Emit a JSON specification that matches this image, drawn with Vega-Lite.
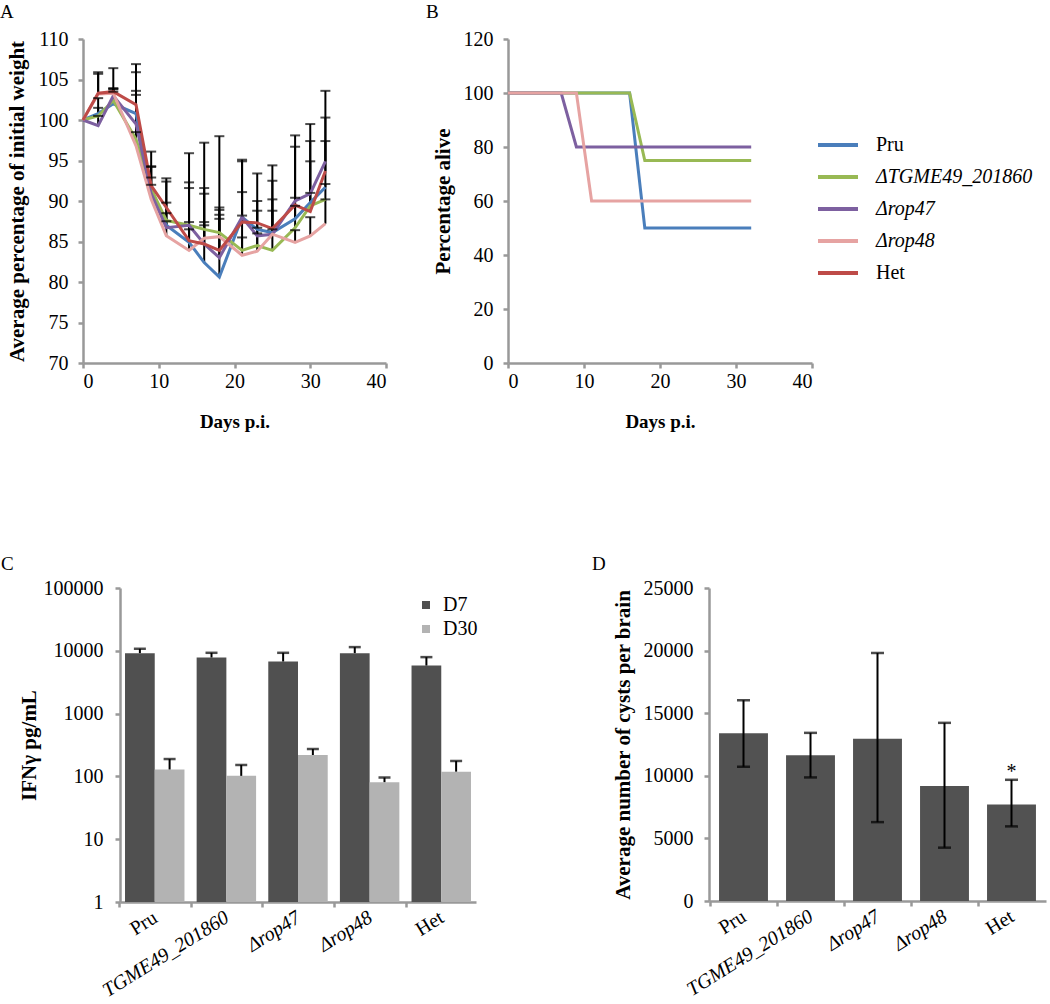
{
  "$schema": "https://vega.github.io/schema/vega-lite/v6.json",
  "padding": {"left": 0, "top": 3, "right": 5, "bottom": 0},
  "background": "white",
  "spacing": 124,
  "resolve": {"scale": {"x": "independent", "y": "independent", "color": "independent"}, "legend": {"color": "independent"}},
  "vconcat": [
    {
      "spacing": 38,
      "resolve": {"scale": {"x": "independent", "y": "independent", "color": "independent"}, "legend": {"color": "independent"}},
      "hconcat": [
        {
          "title": {"text": "A", "anchor": "start", "frame": "bounds", "offset": 7, "dx": -6},
          "width": 303,
          "height": 324,
          "data": {"values": [
            {"day": 0, "strain": "Pru", "weight": 100, "upper": null},
            {"day": 2, "strain": "Pru", "weight": 100.8, "upper": 102.7},
            {"day": 4, "strain": "Pru", "weight": 102.0, "upper": 103.5},
            {"day": 7, "strain": "Pru", "weight": 100.8, "upper": 105.9},
            {"day": 9, "strain": "Pru", "weight": 91.3, "upper": 94.2},
            {"day": 11, "strain": "Pru", "weight": 87.0, "upper": 89.8},
            {"day": 14, "strain": "Pru", "weight": 84.9, "upper": 87.4},
            {"day": 16, "strain": "Pru", "weight": 82.4, "upper": 97.2},
            {"day": 18, "strain": "Pru", "weight": 80.6, "upper": 98.0},
            {"day": 21, "strain": "Pru", "weight": 88.0, "upper": 95.1},
            {"day": 23, "strain": "Pru", "weight": 86.5, "upper": 90.0},
            {"day": 25, "strain": "Pru", "weight": 86.1, "upper": 90.2},
            {"day": 28, "strain": "Pru", "weight": 87.8, "upper": 90.4},
            {"day": 30, "strain": "Pru", "weight": 89.8, "upper": 97.4},
            {"day": 32, "strain": "Pru", "weight": 91.7, "upper": 97.4},
            {"day": 0, "strain": "ΔTGME49_201860", "weight": 100, "upper": null},
            {"day": 2, "strain": "ΔTGME49_201860", "weight": 100.5, "upper": 101.5},
            {"day": 4, "strain": "ΔTGME49_201860", "weight": 102.4, "upper": 103.8},
            {"day": 7, "strain": "ΔTGME49_201860", "weight": 97.6, "upper": 103.1},
            {"day": 9, "strain": "ΔTGME49_201860", "weight": 91.5, "upper": 94.3},
            {"day": 11, "strain": "ΔTGME49_201860", "weight": 87.6, "upper": 92.4},
            {"day": 14, "strain": "ΔTGME49_201860", "weight": 87.0, "upper": 92.3},
            {"day": 16, "strain": "ΔTGME49_201860", "weight": 86.5, "upper": 91.6},
            {"day": 18, "strain": "ΔTGME49_201860", "weight": 86.1, "upper": 87.8},
            {"day": 21, "strain": "ΔTGME49_201860", "weight": 83.9, "upper": 88.2},
            {"day": 23, "strain": "ΔTGME49_201860", "weight": 84.5, "upper": 86.7},
            {"day": 25, "strain": "ΔTGME49_201860", "weight": 83.9, "upper": 86.5},
            {"day": 28, "strain": "ΔTGME49_201860", "weight": 86.7, "upper": 89.4},
            {"day": 30, "strain": "ΔTGME49_201860", "weight": 89.4, "upper": 91.0},
            {"day": 32, "strain": "ΔTGME49_201860", "weight": 90.2, "upper": 92.1},
            {"day": 0, "strain": "Δrop47", "weight": 100, "upper": null},
            {"day": 2, "strain": "Δrop47", "weight": 99.3, "upper": 100.5},
            {"day": 4, "strain": "Δrop47", "weight": 103.0, "upper": 103.9},
            {"day": 7, "strain": "Δrop47", "weight": 99.5, "upper": 103.6},
            {"day": 9, "strain": "Δrop47", "weight": 90.9, "upper": 92.9},
            {"day": 11, "strain": "Δrop47", "weight": 86.7, "upper": 88.5},
            {"day": 14, "strain": "Δrop47", "weight": 87.0, "upper": 95.9},
            {"day": 16, "strain": "Δrop47", "weight": 84.7, "upper": 87.0},
            {"day": 18, "strain": "Δrop47", "weight": 83.0, "upper": 89.2},
            {"day": 21, "strain": "Δrop47", "weight": 88.0, "upper": 94.9},
            {"day": 23, "strain": "Δrop47", "weight": 85.7, "upper": 88.8},
            {"day": 25, "strain": "Δrop47", "weight": 85.9, "upper": 92.5},
            {"day": 28, "strain": "Δrop47", "weight": 90.0, "upper": 98.1},
            {"day": 30, "strain": "Δrop47", "weight": 90.9, "upper": 99.5},
            {"day": 32, "strain": "Δrop47", "weight": 94.9, "upper": 103.6},
            {"day": 0, "strain": "Δrop48", "weight": 100, "upper": null},
            {"day": 2, "strain": "Δrop48", "weight": 103.2, "upper": 105.9},
            {"day": 4, "strain": "Δrop48", "weight": 103.3, "upper": 103.9},
            {"day": 7, "strain": "Δrop48", "weight": 96.8, "upper": 98.5},
            {"day": 9, "strain": "Δrop48", "weight": 90.2, "upper": 92.0},
            {"day": 11, "strain": "Δrop48", "weight": 85.7, "upper": 87.5},
            {"day": 14, "strain": "Δrop48", "weight": 83.9, "upper": 86.5},
            {"day": 16, "strain": "Δrop48", "weight": 85.4, "upper": 87.4},
            {"day": 18, "strain": "Δrop48", "weight": 85.6, "upper": 88.3},
            {"day": 21, "strain": "Δrop48", "weight": 83.3, "upper": 85.5},
            {"day": 23, "strain": "Δrop48", "weight": 83.8, "upper": 86.0},
            {"day": 25, "strain": "Δrop48", "weight": 85.9, "upper": 88.8},
            {"day": 28, "strain": "Δrop48", "weight": 84.9, "upper": 86.4},
            {"day": 30, "strain": "Δrop48", "weight": 85.7, "upper": 88.0},
            {"day": 32, "strain": "Δrop48", "weight": 87.2, "upper": 90.2},
            {"day": 0, "strain": "Het", "weight": 100, "upper": null},
            {"day": 2, "strain": "Het", "weight": 103.3, "upper": 105.7},
            {"day": 4, "strain": "Het", "weight": 103.5, "upper": 106.4},
            {"day": 7, "strain": "Het", "weight": 101.9, "upper": 106.9},
            {"day": 9, "strain": "Het", "weight": 91.9, "upper": 96.1},
            {"day": 11, "strain": "Het", "weight": 89.2, "upper": 92.8},
            {"day": 14, "strain": "Het", "weight": 85.1, "upper": 91.6},
            {"day": 16, "strain": "Het", "weight": 84.7, "upper": 90.9},
            {"day": 18, "strain": "Het", "weight": 83.9, "upper": 88.9},
            {"day": 21, "strain": "Het", "weight": 87.4, "upper": 91.1},
            {"day": 23, "strain": "Het", "weight": 87.3, "upper": 93.4},
            {"day": 25, "strain": "Het", "weight": 86.6, "upper": 94.4},
            {"day": 28, "strain": "Het", "weight": 89.5, "upper": 96.7},
            {"day": 30, "strain": "Het", "weight": 88.7, "upper": 94.9},
            {"day": 32, "strain": "Het", "weight": 93.7, "upper": 100.3}
          ]},
          "encoding": {
            "x": {"field": "day", "type": "quantitative", "scale": {"domain": [0, 40], "nice": false}, "axis": {"values": [0, 10, 20, 30, 40], "title": "Days p.i.", "titleFontSize": 19, "titlePadding": 21, "labelPadding": 3}}
          },
          "layer": [
            {
              "transform": [{"filter": "datum.upper != null"}],
              "mark": {"type": "rule", "color": "black", "strokeWidth": 2},
              "encoding": {
                "y": {"field": "weight", "type": "quantitative", "scale": {"domain": [70, 110], "nice": false, "zero": false}, "axis": {"values": [70, 75, 80, 85, 90, 95, 100, 105, 110], "title": "Average percentage of initial weight", "titleFontSize": 21, "labelPadding": 10, "titlePadding": 11}},
                "y2": {"field": "upper"}
              }
            },
            {
              "mark": {"type": "line", "strokeWidth": 3},
              "encoding": {
                "y": {"field": "weight", "type": "quantitative"},
                "color": {"field": "strain", "type": "nominal", "legend": null, "scale": {"domain": ["Pru", "ΔTGME49_201860", "Δrop47", "Δrop48", "Het"], "range": ["#4A7EBB", "#98B954", "#7D60A0", "#E6A3A2", "#BE4B48"]}}
              }
            },
            {
              "transform": [{"filter": "datum.upper != null"}],
              "mark": {"type": "tick", "orient": "horizontal", "size": 10, "thickness": 2, "color": "black"},
              "encoding": {"y": {"field": "upper", "type": "quantitative"}}
            }
          ]
        },
        {
          "title": {"text": "B", "anchor": "start", "frame": "bounds", "offset": 7, "dx": -6},
          "width": 304,
          "height": 324,
          "data": {"values": [
            {"day": 0, "strain": "Pru", "alive": 100},
            {"day": 16, "strain": "Pru", "alive": 100},
            {"day": 18, "strain": "Pru", "alive": 50},
            {"day": 32, "strain": "Pru", "alive": 50},
            {"day": 0, "strain": "ΔTGME49_201860", "alive": 100},
            {"day": 16, "strain": "ΔTGME49_201860", "alive": 100},
            {"day": 18, "strain": "ΔTGME49_201860", "alive": 75},
            {"day": 32, "strain": "ΔTGME49_201860", "alive": 75},
            {"day": 0, "strain": "Δrop47", "alive": 100},
            {"day": 7, "strain": "Δrop47", "alive": 100},
            {"day": 9, "strain": "Δrop47", "alive": 80},
            {"day": 32, "strain": "Δrop47", "alive": 80},
            {"day": 0, "strain": "Δrop48", "alive": 100},
            {"day": 9, "strain": "Δrop48", "alive": 100},
            {"day": 11, "strain": "Δrop48", "alive": 60},
            {"day": 32, "strain": "Δrop48", "alive": 60}
          ]},
          "mark": {"type": "line", "strokeWidth": 3},
          "encoding": {
            "x": {"field": "day", "type": "quantitative", "scale": {"domain": [0, 40], "nice": false}, "axis": {"values": [0, 10, 20, 30, 40], "title": "Days p.i.", "titleFontSize": 19, "titlePadding": 21, "labelPadding": 3}},
            "y": {"field": "alive", "type": "quantitative", "scale": {"domain": [0, 120], "nice": false}, "axis": {"values": [0, 20, 40, 60, 80, 100, 120], "title": "Percentage alive", "titleFontSize": 21, "labelPadding": 10, "titlePadding": 10}},
            "color": {"field": "strain", "type": "nominal", "scale": {"domain": ["Pru", "ΔTGME49_201860", "Δrop47", "Δrop48", "Het"], "range": ["#4A7EBB", "#98B954", "#7D60A0", "#E6A3A2", "#BE4B48"]},
              "legend": {"orient": "none", "legendX": 308, "legendY": 84, "title": null, "symbolType": "stroke", "symbolSize": 1600, "symbolStrokeWidth": 4, "labelFontSize": 20, "labelOffset": 16, "labelLimit": 300, "rowPadding": 0, "padding": 0,
                "encode": {"labels": {"update": {"fontStyle": {"signal": "datum.label == 'Pru' || datum.label == 'Het' ? 'normal' : 'italic'"}}}}}}
          }
        }
      ]
    },
    {
      "spacing": 114,
      "resolve": {"scale": {"x": "independent", "y": "independent", "color": "independent"}, "legend": {"color": "independent"}},
      "hconcat": [
        {
          "title": {"text": "C", "anchor": "start", "frame": "bounds", "offset": 4, "dx": -17},
          "width": 393,
          "height": 314,
          "data": {"values": [
            {"strain": "Pru", "day": "D7", "ifn": 9180, "upper": 10770},
            {"strain": "Pru", "day": "D30", "ifn": 129, "upper": 189},
            {"strain": "TGME49_201860", "day": "D7", "ifn": 7830, "upper": 9290},
            {"strain": "TGME49_201860", "day": "D30", "ifn": 102, "upper": 152},
            {"strain": "Δrop47", "day": "D7", "ifn": 6760, "upper": 9290},
            {"strain": "Δrop47", "day": "D30", "ifn": 219, "upper": 273},
            {"strain": "Δrop48", "day": "D7", "ifn": 9180, "upper": 11450},
            {"strain": "Δrop48", "day": "D30", "ifn": 81, "upper": 96},
            {"strain": "Het", "day": "D7", "ifn": 5830, "upper": 7930},
            {"strain": "Het", "day": "D30", "ifn": 119, "upper": 176}
          ]},
          "encoding": {
            "x": {"field": "strain", "type": "nominal", "sort": ["Pru", "TGME49_201860", "Δrop47", "Δrop48", "Het"], "scale": {"range": [37, 393], "paddingInner": 0.17, "paddingOuter": 0.07},
              "axis": {"title": null, "labelAngle": -32, "labelAlign": "right", "labelBaseline": "top", "labelPadding": 0, "tickOffset": -35.7, "labelOffset": 30.7,
                "labelFontStyle": {"condition": {"test": "datum.value == 'Pru' || datum.value == 'Het'", "value": "normal"}, "value": "italic"}}},
            "xOffset": {"field": "day", "type": "nominal", "sort": ["D7", "D30"], "scale": {"paddingInner": 0, "paddingOuter": 0}}
          },
          "layer": [
            {
              "mark": {"type": "bar"},
              "encoding": {
                "y": {"field": "ifn", "type": "quantitative", "scale": {"type": "log", "domain": [1, 100000], "nice": false}, "axis": {"offset": -37, "values": [1, 10, 100, 1000, 10000, 100000], "format": "d", "title": "IFNγ pg/mL", "titleFontSize": 21, "labelPadding": 12, "titlePadding": 4}},
                "y2": {"datum": 1},
                "color": {"field": "day", "type": "nominal", "sort": ["D7", "D30"], "scale": {"domain": ["D7", "D30"], "range": ["#505050", "#B3B3B3"]},
                  "legend": {"orient": "none", "legendX": 333, "legendY": 7, "title": null, "symbolType": "square", "symbolSize": 64, "symbolStrokeWidth": 0, "labelFontSize": 20, "labelOffset": 7, "rowPadding": 4, "padding": 0}}
              }
            },
            {
              "mark": {"type": "rule", "color": "black", "strokeWidth": 2},
              "encoding": {"y": {"field": "ifn", "type": "quantitative"}, "y2": {"field": "upper"}}
            },
            {
              "mark": {"type": "tick", "orient": "horizontal", "size": 12, "thickness": 2.5, "color": "black"},
              "encoding": {"y": {"field": "upper", "type": "quantitative"}}
            }
          ]
        },
        {
          "title": {"text": "D", "anchor": "start", "frame": "bounds", "offset": 4, "dx": -20},
          "width": 337,
          "height": 313,
          "data": {"values": [
            {"strain": "Pru", "cysts": 13400, "lower": 10720, "upper": 16040, "mark": ""},
            {"strain": "TGME49_201860", "cysts": 11650, "lower": 9870, "upper": 13430, "mark": ""},
            {"strain": "Δrop47", "cysts": 12950, "lower": 6300, "upper": 19810, "mark": ""},
            {"strain": "Δrop48", "cysts": 9180, "lower": 4260, "upper": 14230, "mark": ""},
            {"strain": "Het", "cysts": 7710, "lower": 5960, "upper": 9680, "mark": "*"}
          ]},
          "encoding": {
            "x": {"field": "strain", "type": "nominal", "sort": ["Pru", "TGME49_201860", "Δrop47", "Δrop48", "Het"], "scale": {"paddingInner": 0.27, "paddingOuter": 0.15},
              "axis": {"title": null, "labelAngle": -32, "labelAlign": "right", "labelBaseline": "top", "labelPadding": 0, "tickOffset": -33.7, "labelOffset": 28.7,
                "labelFontStyle": {"condition": {"test": "datum.value == 'Pru' || datum.value == 'Het'", "value": "normal"}, "value": "italic"}}}
          },
          "layer": [
            {
              "mark": {"type": "bar", "color": "#525252"},
              "encoding": {
                "y": {"field": "cysts", "type": "quantitative", "scale": {"domain": [0, 25000], "nice": false}, "axis": {"values": [0, 5000, 10000, 15000, 20000, 25000], "format": "d", "title": "Average number of cysts per brain", "titleFontSize": 21, "labelPadding": 11, "titlePadding": 10}}
              }
            },
            {
              "mark": {"type": "rule", "color": "black", "strokeWidth": 2},
              "encoding": {"y": {"field": "lower", "type": "quantitative"}, "y2": {"field": "upper"}}
            },
            {
              "mark": {"type": "tick", "orient": "horizontal", "size": 13, "thickness": 2.5, "color": "black"},
              "encoding": {"y": {"field": "upper", "type": "quantitative"}}
            },
            {
              "mark": {"type": "tick", "orient": "horizontal", "size": 13, "thickness": 2.5, "color": "black"},
              "encoding": {"y": {"field": "lower", "type": "quantitative"}}
            },
            {
              "mark": {"type": "text", "fontSize": 20, "dy": -2, "baseline": "alphabetic", "color": "black"},
              "encoding": {"y": {"field": "upper", "type": "quantitative"}, "text": {"field": "mark"}}
            }
          ]
        }
      ]
    }
  ],
  "config": {
    "font": "Liberation Serif",
    "view": {"stroke": null},
    "title": {"font": "Liberation Serif", "fontSize": 19, "fontWeight": "normal", "color": "black"},
    "axis": {
      "grid": false,
      "domainColor": "#999999",
      "domainWidth": 2.5,
      "tickColor": "#999999",
      "tickWidth": 2.5,
      "tickSize": 5,
      "labelFont": "Liberation Serif",
      "labelFontSize": 20,
      "labelColor": "black",
      "titleFont": "Liberation Serif",
      "titleFontSize": 20,
      "titleFontWeight": "bold",
      "titleColor": "black"
    },
    "legend": {"labelFont": "Liberation Serif", "labelColor": "black"}
  }
}
